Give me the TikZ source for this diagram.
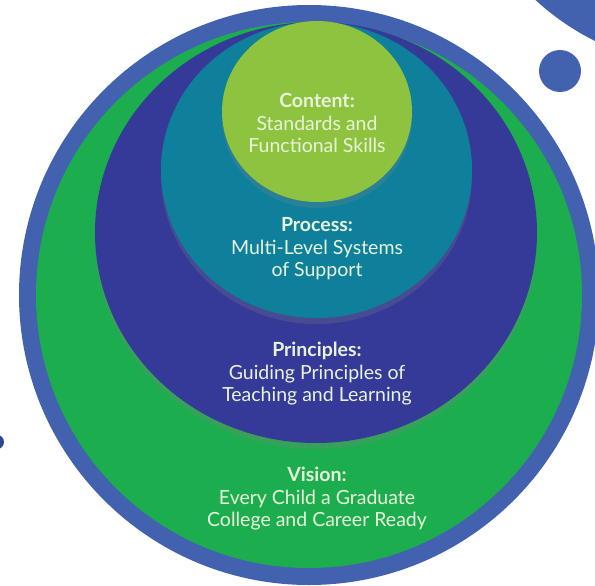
\documentclass[tikz,border=0pt]{standalone}
\usepackage{fontspec}
\setmainfont{Lato}
\usetikzlibrary{shapes.geometric,shadows}

\definecolor{ringblue}{HTML}{4262B0}
\definecolor{dotnavy}{HTML}{2E4795}
\definecolor{visiongreen}{HTML}{1CAD4F}
\definecolor{principlesblue}{HTML}{353A98}
\definecolor{processteal}{HTML}{0E809B}
\definecolor{contentgreen}{HTML}{8DC33F}
\definecolor{paletext}{HTML}{E8F3DA}

\begin{document}
\begin{tikzpicture}[x=1pt, y=-1pt,
	every node/.style={font=\fontsize{19.5}{22.5}\selectfont, text=paletext, align=center},
	layer/.style={ellipse, inner sep=0pt, drop shadow={shadow xshift=0pt, shadow yshift=-6pt, opacity=.25}}]
	\useasboundingbox (0,0) rectangle (595,586);
	% decoration in the corners
	\fill[ringblue] (710,-190) circle [radius=258];
	\fill[ringblue] (560,71) circle [radius=21];
	\fill[dotnavy] (-3.3,442) circle [radius=7.3];
	% the nested layers
	\node[circle, fill=ringblue, minimum size=580pt, inner sep=0pt] (ring) at (309,295) {};
	\node[circle, fill=visiongreen, minimum size=546pt, inner sep=0pt] (vision) at (ring.center) {};
	\node[layer, fill=principlesblue, minimum width=442pt, minimum height=421pt] (principles) at (316,232.5) {};
	\node[layer, fill=processteal, minimum width=311pt, minimum height=296pt] (process) at (316.5,170) {};
	\node[layer, fill=contentgreen, minimum width=190pt, minimum height=181pt] (content) at (317,111.5) {};
	% labels
	\node (contenttext) at (317,123) {\textbf{Content:}\\Standards and\\Functional Skills};
	\node (processtext) at (317,249) {\textbf{Process:}\\Multi-Level Systems\\of Support};
	\node (principlestext) at (317,374) {\textbf{Principles:}\\Guiding Principles of\\Teaching and Learning};
	\node (visiontext) at (317,499) {\textbf{Vision:}\\Every Child a Graduate\\College and Career Ready};
\end{tikzpicture}
\end{document}
